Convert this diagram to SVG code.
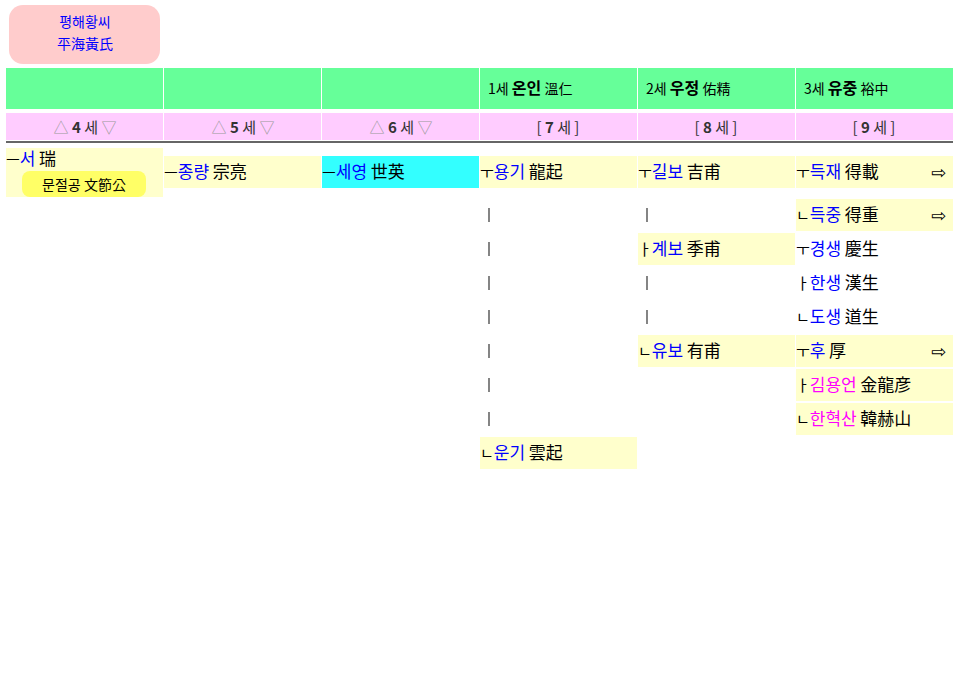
<svg xmlns="http://www.w3.org/2000/svg" width="957" height="700" viewBox="0 0 957 700">
<style>
text{font-family:"Noto Sans CJK KR","DejaVu Sans",sans-serif;}
.hd{fill:#66ff99}.pk{fill:#ffccff}.bg{fill:#ffffcc}
.k{fill:#0000ff;font-size:17px}.h{fill:#000;font-size:17px}.m{fill:#ff00ff;font-size:17px}
.ln{fill:#000;font-size:15px}
.g{font-size:15px;fill:#333;text-anchor:middle}
.ar{font-size:18px;fill:#000;font-family:"DejaVu Sans",sans-serif}
.bar{stroke:#333;stroke-width:1.2}
</style>
<g id="title"><rect x="9" y="5" width="151" height="59" rx="14" fill="#ffcccc"/>
<text x="85" y="27" text-anchor="middle" fill="#0000ff" font-size="14">평해황씨</text>
<text x="85" y="49" text-anchor="middle" fill="#0000ff" font-size="14">平海黃氏</text></g>
<g id="header">
<rect class="hd" x="6" y="68" width="157" height="41"/><rect class="hd" x="164" y="68" width="157" height="41"/><rect class="hd" x="322" y="68" width="157" height="41"/>
<rect class="hd" x="480" y="68" width="157" height="41"/><rect class="hd" x="638" y="68" width="157" height="41"/><rect class="hd" x="796" y="68" width="157" height="41"/>
<text x="488" y="94" font-size="14">1세 <tspan font-size="16" font-weight="bold">온인</tspan> 溫仁</text>
<text x="646" y="94" font-size="14">2세 <tspan font-size="16" font-weight="bold">우정</tspan> 佑精</text>
<text x="804" y="94" font-size="14">3세 <tspan font-size="16" font-weight="bold">유중</tspan> 裕中</text>
<rect class="pk" x="6" y="113" width="157" height="27"/><rect class="pk" x="164" y="113" width="157" height="27"/><rect class="pk" x="322" y="113" width="157" height="27"/>
<rect class="pk" x="480" y="113" width="157" height="27"/><rect class="pk" x="638" y="113" width="157" height="27"/><rect class="pk" x="796" y="113" width="157" height="27"/>
<text class="g" x="85" y="133"><tspan fill="#999">△</tspan> <tspan font-weight="bold">4</tspan> 세 <tspan fill="#999">▽</tspan></text>
<text class="g" x="243" y="133"><tspan fill="#999">△</tspan> <tspan font-weight="bold">5</tspan> 세 <tspan fill="#999">▽</tspan></text>
<text class="g" x="401" y="133"><tspan fill="#999">△</tspan> <tspan font-weight="bold">6</tspan> 세 <tspan fill="#999">▽</tspan></text>
<text class="g" x="558" y="133">[ <tspan font-weight="bold">7</tspan> 세 ]</text>
<text class="g" x="716" y="133">[ <tspan font-weight="bold">8</tspan> 세 ]</text>
<text class="g" x="874" y="133">[ <tspan font-weight="bold">9</tspan> 세 ]</text>
<rect x="6" y="141" width="947" height="2" fill="#666"/>
</g>
<g id="n-seo"><rect class="bg" x="6" y="148" width="157" height="49"/>
<text x="6" y="165"><tspan class="ln">ㅡ</tspan><tspan class="k">서</tspan> <tspan class="h">瑞</tspan></text>
<rect x="22" y="171" width="124" height="26" rx="8" fill="#ffff66"/>
<text x="84" y="190" text-anchor="middle" font-size="14">문절공 文節公</text></g>
<g id="n-jongryang"><rect class="bg" x="164" y="156" width="157" height="32"/>
<text x="164" y="178"><tspan class="ln">ㅡ</tspan><tspan class="k">종량</tspan> <tspan class="h">宗亮</tspan></text></g>
<g id="n-seyoung"><rect x="322" y="156" width="157" height="32" fill="#33ffff"/>
<text x="322" y="178"><tspan class="ln">ㅡ</tspan><tspan class="k">세영</tspan> <tspan class="h">世英</tspan></text></g>
<g id="n-yonggi"><rect class="bg" x="480" y="156" width="157" height="32"/>
<text x="480" y="178"><tspan class="ln">ㅜ</tspan><tspan class="k">용기</tspan> <tspan class="h">龍起</tspan></text></g>
<g id="n-gilbo"><rect class="bg" x="638" y="156" width="157" height="32"/>
<text x="638" y="178"><tspan class="ln">ㅜ</tspan><tspan class="k">길보</tspan> <tspan class="h">吉甫</tspan></text></g>
<g id="n-deukjae"><rect class="bg" x="796" y="156" width="157" height="32"/>
<text x="796" y="178"><tspan class="ln">ㅜ</tspan><tspan class="k">득재</tspan> <tspan class="h">得載</tspan></text><text class="ar" x="931" y="179">⇨</text></g>
<g id="n-deukjung"><rect class="bg" x="796" y="199" width="157" height="32"/>
<text x="796" y="221"><tspan class="ln">ㄴ</tspan><tspan class="k">득중</tspan> <tspan class="h">得重</tspan></text><text class="ar" x="931" y="222">⇨</text></g>
<g id="n-gyebo"><rect class="bg" x="638" y="233" width="157" height="32"/>
<text x="638" y="255"><tspan class="ln">ㅏ</tspan><tspan class="k">계보</tspan> <tspan class="h">季甫</tspan></text></g>
<g id="n-gyeongsaeng"><text x="796" y="255"><tspan class="ln">ㅜ</tspan><tspan class="k">경생</tspan> <tspan class="h">慶生</tspan></text></g>
<g id="n-hansaeng"><text x="796" y="289"><tspan class="ln">ㅏ</tspan><tspan class="k">한생</tspan> <tspan class="h">漢生</tspan></text></g>
<g id="n-dosaeng"><text x="796" y="323"><tspan class="ln">ㄴ</tspan><tspan class="k">도생</tspan> <tspan class="h">道生</tspan></text></g>
<g id="n-yubo"><rect class="bg" x="638" y="335" width="157" height="32"/>
<text x="638" y="357"><tspan class="ln">ㄴ</tspan><tspan class="k">유보</tspan> <tspan class="h">有甫</tspan></text></g>
<g id="n-hu"><rect class="bg" x="796" y="335" width="157" height="32"/>
<text x="796" y="357"><tspan class="ln">ㅜ</tspan><tspan class="k">후</tspan> <tspan class="h">厚</tspan></text><text class="ar" x="931" y="358">⇨</text></g>
<g id="n-kim"><rect class="bg" x="796" y="369" width="157" height="32"/>
<text x="796" y="391"><tspan class="ln">ㅏ</tspan><tspan class="m">김용언</tspan> <tspan class="h">金龍彦</tspan></text></g>
<g id="n-han"><rect class="bg" x="796" y="403" width="157" height="32"/>
<text x="796" y="425"><tspan class="ln">ㄴ</tspan><tspan class="m">한혁산</tspan> <tspan class="h">韓赫山</tspan></text></g>
<g id="n-ungi"><rect class="bg" x="480" y="437" width="157" height="32"/>
<text x="480" y="459"><tspan class="ln">ㄴ</tspan><tspan class="k">운기</tspan> <tspan class="h">雲起</tspan></text></g>
<g id="connectors">
<line class="bar" x1="489" y1="208" x2="489" y2="222"/><line class="bar" x1="489" y1="242" x2="489" y2="256"/><line class="bar" x1="489" y1="276" x2="489" y2="290"/>
<line class="bar" x1="489" y1="310" x2="489" y2="324"/><line class="bar" x1="489" y1="344" x2="489" y2="358"/><line class="bar" x1="489" y1="378" x2="489" y2="392"/><line class="bar" x1="489" y1="412" x2="489" y2="426"/>
<line class="bar" x1="647" y1="208" x2="647" y2="222"/><line class="bar" x1="647" y1="276" x2="647" y2="290"/><line class="bar" x1="647" y1="310" x2="647" y2="324"/>
</g>
</svg>
